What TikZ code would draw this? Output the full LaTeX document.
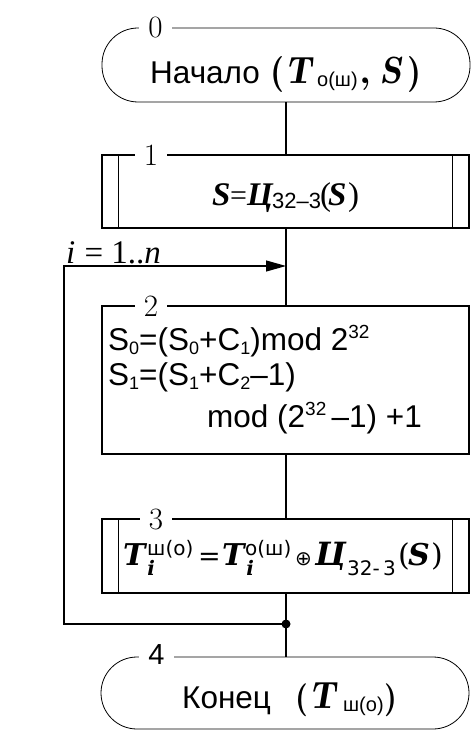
\documentclass[tikz,border=0pt]{standalone}
\usepackage{fontspec}
\setmainfont{Liberation Sans}
\newfontfamily\srf{Liberation Serif}
\newfontfamily\dvserif{DejaVu Serif}
\newfontfamily\dvsans{DejaVu Sans}
\newcommand\lmrf{\fontfamily{lmr}\selectfont}
\newcommand\lmb[1]{{\lmrf\bfseries #1}}
\newcommand\lmbi[1]{{\lmrf\bfseries\itshape #1}}
\newcommand\seg[2]{\makebox[#1pt][l]{#2}}
\newcommand\fs[1]{\fontsize{#1}{#1}\selectfont}
\usetikzlibrary{arrows.meta}
\newcommand\mysb[2][-4pt]{\raisebox{#1}{\fs{18}#2}}
\newcommand\mysp[2][12pt]{\raisebox{#1}{\fs{19}#2}}
\newcommand\Ti{\textbf{\textit{T}}\rlap{\raisebox{-10pt}{\fs{20}\textbf{\textit{i}}}}}
\tikzset{
  ln/.style={line width=1.1pt},
  term/.style={draw, line width=0.8pt, rounded corners=36pt, inner sep=0pt},
  proc/.style={draw, line width=1.1pt, inner sep=0pt},
  num/.style={fill=white, inner xsep=9pt, inner ysep=0pt, font=\fs{31}\lmrf},
  txt/.style={inner sep=0pt, font=\fontsize{31.5}{33}\selectfont},
}
\begin{document}
\begin{tikzpicture}[x=1pt,y=-1pt]
\useasboundingbox (0,0) rectangle (475,735);
% shapes
\node[term, minimum width=368pt, minimum height=74pt] (t0) at (286,65) {};
\node[proc, minimum width=367pt, minimum height=73pt] (b1) at (285.5,191.5) {};
\node[proc, minimum width=367pt, minimum height=148pt] (b2) at (285.5,380) {};
\node[proc, minimum width=367pt, minimum height=74pt] (b3) at (285.5,556) {};
\node[term, minimum width=368pt, minimum height=72pt] (t4) at (285,693) {};
\foreach \b in {b1,b3}{
  \draw[ln] ([xshift=17pt]\b.north west) -- ([xshift=17pt]\b.south west);
  \draw[ln] ([xshift=-17pt]\b.north east) -- ([xshift=-17pt]\b.south east);
}
% labels on top edges
\node[num] (n0) at (155.5,28) {0};
\node[num] (n1) at (151,155) {1};
\node[num] (n2) at (151,306) {2};
\node[num] (n3) at (156,519) {3};
\node[num, font=\fs{29}] (n4) at (156.5,655) {4};
% connectors
\coordinate (jn) at (286,266);
\coordinate (ll) at (64,266);
\coordinate (lb) at (64,624);
\node[circle, fill, inner sep=0pt, minimum size=9pt] (dot) at (286,624) {};
\draw[ln] (t0.south -| 286,0) -- (b1.north -| 286,0);
\draw[ln] (b1.south -| 286,0) -- (b2.north -| 286,0);
\draw[ln] (b2.south -| 286,0) -- (b3.north -| 286,0);
\draw[ln] (b3.south -| 286,0) -- (dot.center);
\draw[ln] (dot.center) -- (t4.north -| 286,0);
\draw[ln, -{Triangle[length=20pt,width=11pt]}] (dot.center) -- (lb) -- (ll) -- (jn);
\node[txt, anchor=base west, font=\fs{33}] (it) at (66,263) {{\srf\itshape i} {\srf = 1..}{\srf\itshape n}};
% texts
\node[txt, anchor=base west] (x0) at (150,84)
  {\seg{120}{Начало}\seg{15}{\fs{36}\lmb{(}}\seg{32}{\fs{38}\lmbi{T}}\seg{43}{\mysb[-3pt]{\fs{20}о(ш)}}\seg{20}{\fs{36}\lmb{,}}\seg{27}{\fs{38}\lmbi{S}}{\fs{36}\lmb{)}}};
\node[txt, anchor=base west] (x1) at (212,205)
  {\srf\fs{33}\seg{18}{\bfseries\itshape S}\seg{17}{\fs{30}=}\seg{25}{\bfseries\itshape Ц}\seg{48}{\raisebox{-3pt}{\rmfamily\fs{22}32–3}}\seg{8}{(}\seg{20}{\bfseries\itshape S})};
\node[txt, anchor=base west] (x2a) at (108,350)
  {S\mysb{0}=(S\mysb{0}+C\mysb{1})mod 2\mysp{32}};
\node[txt, anchor=base west] (x2b) at (108,385)
  {S\mysb{1}=(S\mysb{1}+C\mysb{2}–1)};
\node[txt, anchor=base west] (x2c) at (207,427)
  {mod (2\mysp{32}\,–1) +1};
\node[txt, anchor=base west] (x3) at (123,565)
  {\dvserif\fs{30}\seg{24}{\Ti}\seg{51}{\raisebox{10pt}{\dvsans\fs{20}ш(о)}}\seg{24}{\fs{27}=}\seg{23}{\Ti}\seg{50}{\raisebox{10pt}{\dvsans\fs{20}о(ш)}}\seg{20}{\dvsans\fs{20}⊕}\seg{32}{\fs{32}\textbf{\textit{Ц}}}\seg{51}{\raisebox{-10pt}{\dvsans\fs{20}32-\,3}}\seg{10}{(}\seg{23}{\textbf{\textit{S}}})};
\node[txt, anchor=base west] (x4) at (182,708)
  {\seg{113}{Конец}\seg{14}{\fs{33}\lmb{(}}\seg{34}{\fs{38}\lmbi{T}}\seg{41}{\mysb[-3pt]{\fs{20}ш(о)}}{\fs{33}\lmb{)}}};
\end{tikzpicture}
\end{document}
